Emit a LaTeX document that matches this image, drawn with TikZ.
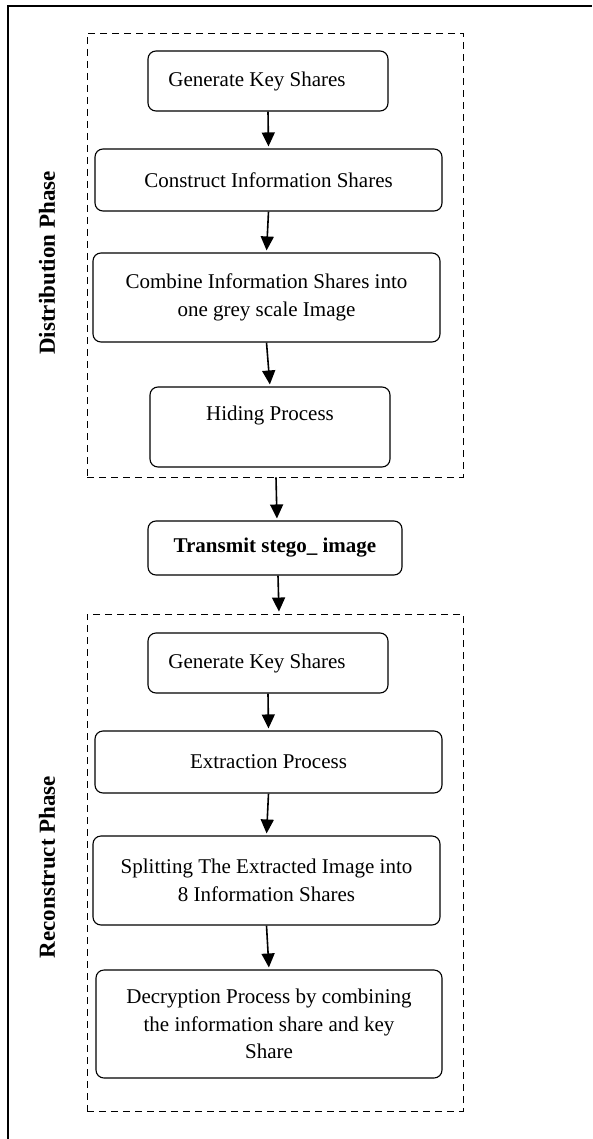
\documentclass[tikz,border=0pt]{standalone}
\usepackage{fontspec}
\setmainfont{Liberation Serif}
\usetikzlibrary{arrows.meta,positioning}

\tikzset{
  stepnode/.style={draw, rounded corners=8pt, line width=1.1pt, align=center, inner sep=0pt, font=\fontsize{21}{27.5}\selectfont},
  phasebox/.style={draw, dash pattern=on 7pt off 5pt, line width=0.9pt, inner sep=0pt},
  phaselabel/.style={rotate=90, font=\fontsize{23}{27}\selectfont\bfseries},
  flow/.style={-{Triangle[length=14pt,width=13pt]}, line width=1.6pt, shorten >=2pt}
}

\begin{document}
\begin{tikzpicture}[x=1pt,y=-1pt]
\useasboundingbox (0,0) rectangle (592,1139);
\draw[line width=1.4pt] (8,1139) -- (8,6) -- (592,6);

% distribution phase
\node[phasebox, minimum width=376, minimum height=444] (distbox) at (275,255) {};
\node[phaselabel] (distlabel) at (47,263) {Distribution Phase};
\node[stepnode, minimum width=240, minimum height=60] (keygen) at (268,81) {Generate Key Shares\hspace*{22pt}};
\node[stepnode, minimum width=347, minimum height=62] (construct) at (268.5,180) {Construct Information Shares};
\node[stepnode, minimum width=347, minimum height=89] (combine) at (266.5,297.5) {Combine Information Shares into\\one grey scale Image};
\node[stepnode, minimum width=240, minimum height=80] (hiding) at (270,427) {Hiding Process\\~};

% transmission
\node[stepnode, minimum width=254, minimum height=54, font=\fontsize{21}{27.5}\selectfont\bfseries] (transmit) at (275,548) {Transmit stego\_ image};

% reconstruct phase
\node[phasebox, minimum width=376, minimum height=497] (recbox) at (275,862.5) {};
\node[phaselabel] (reclabel) at (47,867) {Reconstruct Phase};
\node[stepnode, minimum width=240, minimum height=60] (keygenb) at (268,663) {Generate Key Shares\hspace*{22pt}};
\node[stepnode, minimum width=347, minimum height=62] (extract) at (268.5,762) {Extraction Process};
\node[stepnode, minimum width=347, minimum height=89] (split) at (266.5,880.5) {Splitting The Extracted Image into\\8 Information Shares};
\node[stepnode, minimum width=346, minimum height=108] (decrypt) at (269,1024) {Decryption Process by combining\\the information share and key\\Share};

\draw[flow] (keygen.south) -- (construct.north);
\draw[flow] (construct.south) -- (combine.north);
\draw[flow] (combine.south) -- (hiding.north);
\draw[flow] ([xshift=1]distbox.south) -- ([xshift=2]transmit.north);
\draw[flow] ([xshift=3]transmit.south) -- ([xshift=4]recbox.north);
\draw[flow] (keygenb.south) -- (extract.north);
\draw[flow] (extract.south) -- (split.north);
\draw[flow] (split.south) -- (decrypt.north);
\end{tikzpicture}
\end{document}
